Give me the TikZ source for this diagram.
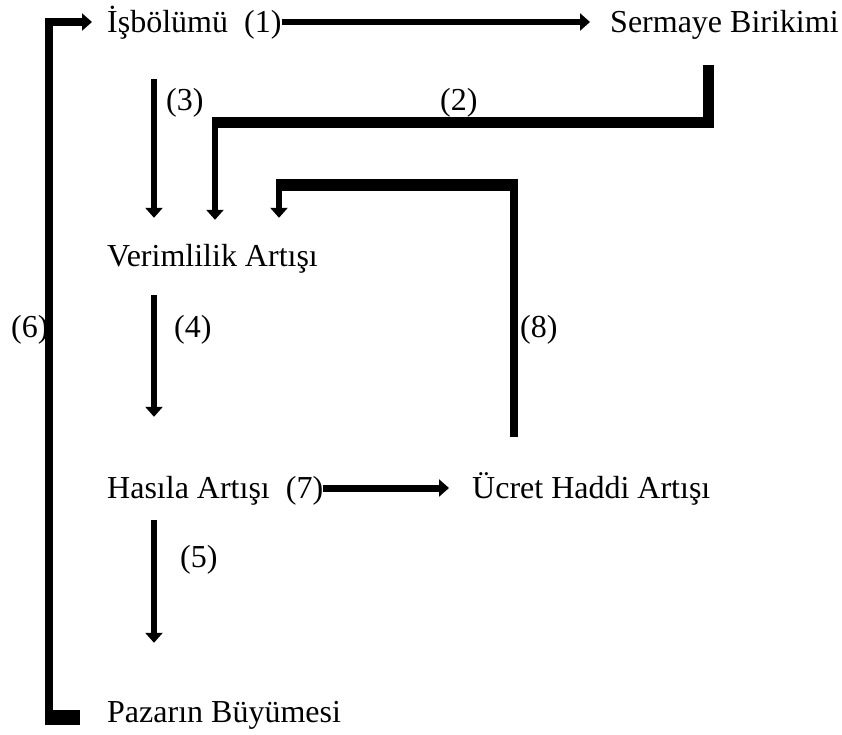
\documentclass[tikz,border=0pt]{standalone}
\usepackage{fontspec}
\setmainfont{Liberation Serif}
\usetikzlibrary{arrows.meta}
\begin{document}
\begin{tikzpicture}[x=1pt,y=-1pt,
  lbl/.style={anchor=base west, inner sep=0pt, font=\fontsize{32}{38}\selectfont, text height=26pt, text depth=6pt},
  tip/.style={-{Triangle[length=10pt,width=17pt]}},
  wsix/.style={line width=6pt},
  wseven/.style={line width=7pt},
  weight/.style={line width=8pt}]
\useasboundingbox (0,0) rectangle (842,734);
% text nodes
\node[lbl] (isb)  at (107,32)  {İşbölümü\ \ (1)};
\node[lbl] (serm) at (610,32)  {Sermaye Birikimi};
\node[lbl] (ver)  at (107,266) {Verimlilik Artışı};
\node[lbl] (has)  at (107,498) {Hasıla Artışı\ \ (7)};
\node[lbl] (ucr)  at (472,498) {Ücret Haddi Artışı};
\node[lbl] (paz)  at (107,722) {Pazarın Büyümesi};
% labels
\node[lbl] (n3) at (166,110) {(3)};
\node[lbl] (n2) at (440,110) {(2)};
\node[lbl] (n6) at (11,337)  {(6)};
\node[lbl] (n4) at (174,337) {(4)};
\node[lbl] (n8) at (520,337) {(8)};
\node[lbl] (n5) at (180,567) {(5)};
% bend coordinates
\coordinate (k2a) at (708.5,65);
\coordinate (k2b) at (212,122.5);
\coordinate (k2c) at (215,117);
\coordinate (k8a) at (514,180);
\coordinate (k8b) at (518,185);
\coordinate (k8c) at (276,185);
\coordinate (k8d) at (279,185);
\coordinate (k6)  at (49,725);
% (1)
\draw[wsix,tip,shorten >=20pt] (isb.east) -- (serm.west);
% (7)
\draw[wseven,tip,shorten >=23pt] (has.east) -- (ucr.west);
% (3) (4) (5)
\draw[wsix,tip] ([xshift=47pt,yshift=-41pt]isb.south west) -- ([xshift=47pt,yshift=22pt]ver.north west);
\draw[wsix,tip] ([xshift=47pt,yshift=-23pt]ver.south west) -- ([xshift=47pt,yshift=55pt]has.north west);
\draw[wsix,tip] ([xshift=47pt,yshift=-16pt]has.south west) -- ([xshift=47pt,yshift=53pt]paz.north west);
% (2)
\draw[line width=11pt] (k2a) |- (k2b);
\draw[wsix,tip] (k2c) -- ([xshift=108pt,yshift=20pt]ver.north west);
% (8)
\draw[weight] ([xshift=42pt,yshift=35pt]ucr.north west) -- (k8a);
\draw[line width=12pt] (k8b) -- (k8c);
\draw[wsix,tip] (k8d) -- ([xshift=172pt,yshift=22pt]ver.north west);
% (6)
\draw[line width=15pt] ([xshift=-62pt,yshift=-5.5pt]paz.west) -- ([xshift=-27pt,yshift=-5.5pt]paz.west);
\draw[weight,tip,shorten >=15pt] (k6) |- (isb.west);
\end{tikzpicture}
\end{document}
